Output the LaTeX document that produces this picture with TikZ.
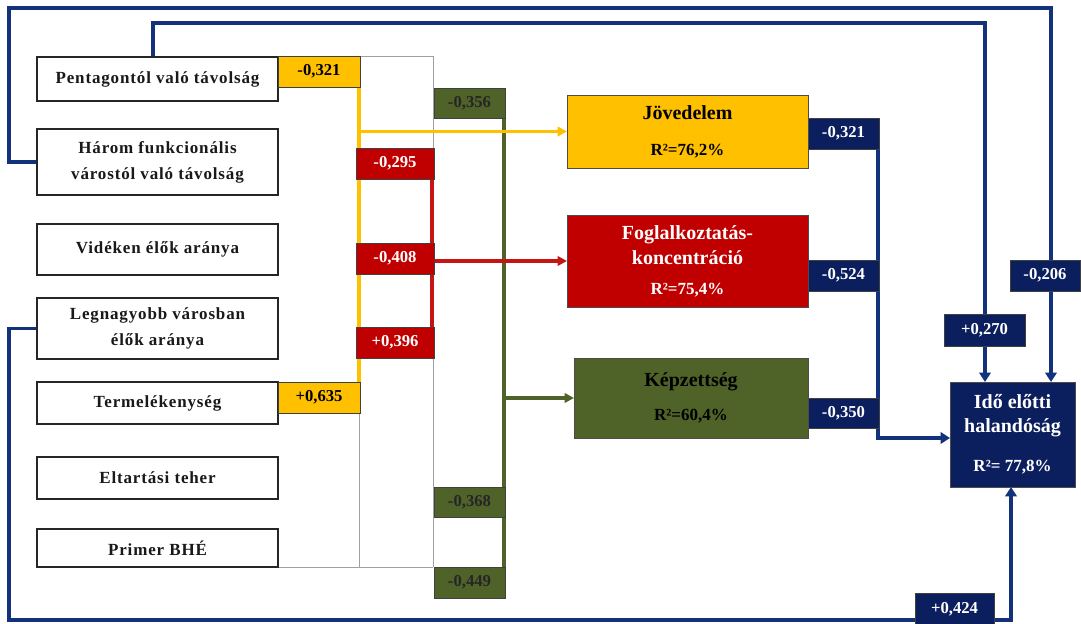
\documentclass[tikz,border=0pt]{standalone}
\usepackage{fontspec}
\setmainfont{Liberation Serif}
\newfontfamily\lsfont{Liberation Serif}[LetterSpace=5.0]
\usetikzlibrary{arrows.meta}
\definecolor{myyellow}{HTML}{FFC000}
\definecolor{myred}{HTML}{C00000}
\definecolor{mygreen}{HTML}{4F6228}
\definecolor{mynavy}{HTML}{0B1F5E}
\definecolor{navyline}{HTML}{12337C}
\definecolor{grayline}{HTML}{A0A0A0}
\pgfdeclarelayer{bg}
\pgfsetlayers{bg,main}
\begin{document}
\begin{tikzpicture}[x=0.75pt,y=-0.75pt,
  boxat/.style 2 args={minimum width=#1*0.75pt, minimum height=#2*0.75pt, anchor=north west, inner sep=0pt, outer sep=0pt},
  lbox/.style={draw=black!85, line width=1.6pt, fill=white, align=center, text=black!90, font=\lsfont\bfseries\fontsize{12.75}{19.5}\selectfont},
  coef/.style={draw=black!75, line width=0.5pt, font=\bfseries\fontsize{12.5}{15}\selectfont},
  ybox/.style={coef, fill=myyellow, text=black},
  rbox/.style={coef, fill=myred, text=white},
  gbox/.style={coef, fill=mygreen, text=black!85},
  nbox/.style={coef, fill=mynavy, text=white},
  mbox/.style={draw=black!70, line width=0.6pt, align=center, font=\bfseries\fontsize{15}{18}\selectfont},
  nline/.style={draw=navyline, line width=2.6pt},
  yline/.style={draw=myyellow, line width=2.3pt},
  rline/.style={draw=myred!92!white, line width=2.3pt},
  gline/.style={draw=mygreen, line width=2.3pt},
  thin/.style={draw=grayline, line width=0.7pt},
  narr/.style={-{Triangle[length=7pt,width=8.5pt]}},
  carr/.style={-{Triangle[length=7pt,width=7pt]}}
]
\useasboundingbox (0,0) rectangle (1081,624);

% left boxes
\node[lbox, boxat={241}{44}] (pent) at (37,57) {Pentagontól való távolság};
\node[lbox, boxat={241}{66}] (harom) at (37,129) {Három funkcionális\\várostól való távolság};
\node[lbox, boxat={241}{51}] (videk) at (37,224) {Vidéken élők aránya};
\node[lbox, boxat={241}{61}] (legn) at (37,298) {Legnagyobb városban\\élők aránya};
\node[lbox, boxat={241}{42}] (term) at (37,382) {Termelékenység};
\node[lbox, boxat={241}{42}] (eltart) at (37,457) {Eltartási teher};
\node[lbox, boxat={241}{38}] (primer) at (37,529) {Primer BHÉ};

% coefficient boxes
\node[ybox, boxat={82}{31}] (c1) at (278,56) {-0,321};
\node[ybox, boxat={82}{31}] (c2) at (278,382) {+0,635};
\node[rbox, boxat={78}{31}] (r1) at (356,148) {-0,295};
\node[rbox, boxat={78}{31}] (r2) at (356,243) {-0,408};
\node[rbox, boxat={78}{31}] (r3) at (356,327) {+0,396};
\node[gbox, boxat={71}{30}] (g1) at (434,88) {-0,356};
\node[gbox, boxat={71}{30}] (g2) at (434,487) {-0,368};
\node[gbox, boxat={71}{31}] (g3) at (434,567) {-0,449};
\node[nbox, boxat={71}{31}] (n1) at (808,118) {-0,321};
\node[nbox, boxat={71}{31}] (n2) at (808,260) {-0,524};
\node[nbox, boxat={71}{30}] (n3) at (808,398) {-0,350};
\node[nbox, boxat={81}{32}] (n4) at (944,314) {+0,270};
\node[nbox, boxat={70}{31}] (n5) at (1010,260) {-0,206};
\node[nbox, boxat={79}{33}] (n6) at (915,593) {+0,424};

% main boxes
\node[mbox, fill=myyellow, text=black, boxat={241}{73}] (jov) at (567,95)
  {Jövedelem\\[9pt]{\fontsize{12.75}{15}\selectfont R²=76,2\%}};
\node[mbox, fill=myred, text=white, boxat={241}{92}] (fogl) at (567,215)
  {Foglalkoztatás-\\[0.75pt]koncentráció\\[4.5pt]{\fontsize{12.75}{15}\selectfont R²=75,4\%}};
\node[mbox, fill=mygreen, text=black, boxat={234}{80}] (kepz) at (574,358)
  {Képzettség\\[8pt]{\fontsize{12.75}{15}\selectfont R²=60,4\%}};
\node[mbox, fill=mynavy, text=white, boxat={125}{105}] (ido) at (950,382)
  {Idő előtti\\halandóság\\[11pt]{\fontsize{12.75}{15}\selectfont R²= 77,8\%}};

% helper coordinates
\coordinate (A1) at (9,162);
\coordinate (A2) at (9,8);
\coordinate (A3) at (1051,8);
\coordinate (B1) at (153,23);
\coordinate (B2) at (985,23);
\coordinate (C2) at (9,620);
\coordinate (C3) at (1011,620);
\coordinate (D1) at (878,438);
\coordinate (Y) at (359,0);
\coordinate (R) at (432,0);
\coordinate (G) at (504,0);
\coordinate (Gx) at (433,0);

\begin{pgfonlayer}{bg}
\fill[white] (0,0) rectangle (1081,624);
% thin gray frame
\draw[thin] (c1.north east) -- (c1.north east -| Gx) -- (r1.north -| Gx);
\draw[thin] (r3.south -| Gx) -- (g3.north -| Gx);
\draw[thin] (c2.south -| Y) -- (primer.south -| Y);
\draw[thin] (primer.south east) -- (primer.south east -| Gx);
% green
\draw[gline] (g1.south -| G) -- (g3.north -| G);
\draw[gline, carr] (kepz.west -| G) -- (kepz.west);
% yellow
\draw[yline] (c1.south -| Y) -- (c2.north -| Y);
\draw[yline, carr] (jov.west -| Y) -- (jov.west);
% red
\draw[rline] (r1.south -| R) -- (r3.north -| R);
\draw[rline, carr] (fogl.west -| R) -- (fogl.west);
% navy
\draw[nline, narr] (harom.west |- A1) -- (A1) -- (A2) -- (A3) -- (A3 |- ido.north);
\draw[nline, narr] (B1 |- pent.north) -- (B1) -- (B2) -- (B2 |- ido.north);
\draw[nline, narr] (legn.west) -- (legn.west -| C2) -- (C2) -- (C3) -- (C3 |- ido.south);
\draw[nline, narr] (n1.center -| D1) -- (D1) -- (D1 -| ido.west);
\end{pgfonlayer}
\end{tikzpicture}
\end{document}
